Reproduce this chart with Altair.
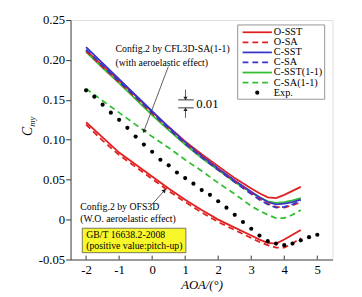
import altair as alt
import pandas as pd

# ---------------- data ----------------
aoa = [-2, -1.5, -1, -0.5, 0, 0.5, 1, 1.5, 2, 2.5, 3, 3.25, 3.5, 3.75, 4, 4.25, 4.5]

# Config.1 group (upper)
o_sst_1 = [0.212, 0.193, 0.174, 0.155, 0.135, 0.116, 0.098, 0.082, 0.067, 0.052, 0.039, 0.033, 0.028, 0.027, 0.031, 0.036, 0.041]
o_sa_1 = [0.211, 0.191, 0.172, 0.153, 0.133, 0.114, 0.096, 0.079, 0.063, 0.048, 0.033, 0.026, 0.020, 0.016, 0.015, 0.018, 0.022]
c_sst = [0.216, 0.196, 0.176, 0.156, 0.136, 0.116, 0.097, 0.080, 0.064, 0.049, 0.035, 0.028, 0.022, 0.019, 0.020, 0.022, 0.025]
c_sa = [0.213, 0.193, 0.173, 0.154, 0.134, 0.114, 0.095, 0.078, 0.062, 0.047, 0.032, 0.025, 0.019, 0.015, 0.016, 0.019, 0.024]
c_sst11 = [0.210, 0.190, 0.171, 0.151, 0.131, 0.112, 0.094, 0.077, 0.062, 0.047, 0.034, 0.028, 0.023, 0.021, 0.022, 0.024, 0.027]
# Config.2 group
c_sa11 = [0.164, 0.149, 0.134, 0.119, 0.104, 0.090, 0.075, 0.061, 0.046, 0.032, 0.017, 0.011, 0.006, 0.002, 0.002, 0.006, 0.012]
o_sst_2 = [0.122, 0.103, 0.084, 0.069, 0.054, 0.039, 0.025, 0.012, 0.000, -0.010, -0.020, -0.025, -0.029, -0.030, -0.025, -0.019, -0.013]
o_sa_2 = [0.119, 0.099, 0.081, 0.066, 0.051, 0.036, 0.022, 0.009, -0.003, -0.013, -0.023, -0.028, -0.032, -0.035, -0.035, -0.030, -0.023]

exp_aoa = [-2, -1.75, -1.5, -1.25, -1, -0.75, -0.5, -0.25, 0, 0.25, 0.5, 0.75, 1, 1.25, 1.5,
           1.75, 2, 2.25, 2.5, 2.75, 3, 3.25, 3.5, 3.75, 4, 4.25, 4.5, 4.75, 5]
exp_cmy = [0.162, 0.154, 0.144, 0.134, 0.125, 0.115, 0.104, 0.094, 0.085, 0.075, 0.068, 0.059, 0.052, 0.045, 0.037,
           0.031, 0.023, 0.015, 0.006, -0.003, -0.0115, -0.020, -0.027, -0.030, -0.032, -0.030, -0.026, -0.022, -0.019]

x_ticks = [-2, -1, 0, 1, 2, 3, 4, 5]
y_ticks = [-0.05, 0, 0.05, 0.10, 0.15, 0.20, 0.25]

RED, BLUE, GREEN = "#e02020", "#3535c8", "#2fbf2f"
FONT = "Liberation Serif"
LW = 1.8

series = [
    ("O-SA(2)", o_sa_2, RED, True),
    ("O-SST(2)", o_sst_2, RED, False),
    ("C-SA(1-1)", c_sa11, GREEN, True),
    ("O-SST(1)", o_sst_1, RED, False),
    ("C-SST(1-1)", c_sst11, GREEN, False),
    ("O-SA(1)", o_sa_1, RED, True),
    ("C-SA", c_sa, BLUE, True),
    ("C-SST", c_sst, BLUE, False),
]

rows = []
for name, vals, col, dashed in series:
    for a, v in zip(aoa, vals):
        rows.append({"series": name, "aoa": a, "cmy": v, "color": col, "dashed": dashed})
df = pd.DataFrame(rows)
df_exp = pd.DataFrame({"aoa": exp_aoa, "cmy": exp_cmy})

xscale = alt.Scale(domain=[-2.47, 5.46], nice=False, zero=False)
yscale = alt.Scale(domain=[-0.05, 0.25], nice=False, zero=False)

xaxis = alt.Axis(values=x_ticks, tickSize=0, labelPadding=4, grid=False,
                 labelOverlap=False, labelFlush=False,
                 labelFont=FONT, labelFontSize=13, labelColor="black",
                 labelExpr="datum.value < 0 ? '-' + format(-datum.value, 'd') : format(datum.value, 'd')",
                 title="AOA/(°)", titleFont=FONT, titleFontSize=13, titleFontStyle="italic",
                 titleFontWeight="normal", titleColor="black", titlePadding=3,
                 domainColor="#444")
yaxis = alt.Axis(values=y_ticks, tickSize=5, labelPadding=1, grid=False, tickColor="#333",
                 labelOverlap=False, labelFlush=False,
                 labelFont=FONT, labelFontSize=13, labelColor="black",
                 labelExpr="datum.value == 0 ? '0' : (datum.value < 0 ? '-' + format(-datum.value, '.2f') : format(datum.value, '.2f'))",
                 title=None, domainColor="#444")

def XF(f):
    return alt.X(f, type="quantitative", scale=xscale, axis=xaxis)

def YF(f):
    return alt.Y(f, type="quantitative", scale=yscale, axis=yaxis)

solid = alt.Chart(df[~df.dashed]).mark_line(strokeWidth=LW).encode(
    x=XF("aoa"), y=YF("cmy"), color=alt.Color("color:N", scale=None), detail="series:N", order="aoa:Q")
dashed = alt.Chart(df[df.dashed]).mark_line(strokeWidth=LW, strokeDash=[6, 4]).encode(
    x=XF("aoa"), y=YF("cmy"), color=alt.Color("color:N", scale=None), detail="series:N", order="aoa:Q")
pts = alt.Chart(df_exp).mark_circle(size=18, color="black", opacity=1).encode(x=XF("aoa"), y=YF("cmy"))

layers = [solid, dashed, pts]

# inward x ticks
tick_df = pd.DataFrame({"t": x_ticks})
layers.append(alt.Chart(tick_df).mark_rule(color="#333", strokeWidth=1).encode(
    x=XF("t"), y=alt.value(245), y2=alt.value(241)))

dummy = pd.DataFrame({"a": [0]})

def seg(x0, y0, x1, y1, w=0.8):
    d = pd.DataFrame({"x0": [x0], "y0": [y0], "x1": [x1], "y1": [y1]})
    return alt.Chart(d).mark_rule(color="#333", strokeWidth=w).encode(
        x=XF("x0"), y=YF("y0"), x2="x1:Q", y2="y1:Q")

def head(x, y, ang, size=22):
    d = pd.DataFrame({"x": [x], "y": [y]})
    return alt.Chart(d).mark_point(shape="triangle", filled=True, color="#222", opacity=1,
                                   size=size, angle=ang).encode(x=XF("x"), y=YF("y"))

# annotation arrows (data coordinates)
layers += [seg(0.49, 0.1917, -0.23, 0.113), head(-0.24, 0.1115, 200)]
layers += [seg(-0.01, 0.0187, 0.37, 0.0365), head(0.36, 0.036, 41)]
# 0.01 scale indicator
layers += [seg(0.79, 0.15, 1.26, 0.15, 1), seg(0.79, 0.14, 1.26, 0.14, 1)]
layers += [seg(1.01, 0.163, 1.01, 0.153), head(1.01, 0.1525, 180, 18)]
layers += [seg(1.01, 0.1275, 1.01, 0.137), head(1.01, 0.1375, 0, 18)]
layers.append(alt.Chart(dummy).mark_text(font=FONT, fontSize=13, align="left", baseline="middle", color="black").encode(
    x=alt.value(128.7), y=alt.value(86.3), text=alt.value("0.01")))

def txt(s, x, y, size=10, style="normal", angle=0, align="left"):
    return alt.Chart(dummy).mark_text(font=FONT, fontSize=size, fontStyle=style, align=align,
                                      baseline="middle", color="black", angle=angle).encode(
        x=alt.value(x), y=alt.value(y), text=alt.value(s))

layers += [txt("Config.2 by CFL3D-SA(1-1)", 46, 30), txt("(with aeroelastic effect)", 46, 44)]
layers += [txt("Config.2 by OFS3D", 10, 191.5), txt("(W.O. aeroelastic effect)", 10, 204)]

# yellow box
layers.append(alt.Chart(dummy).mark_rect(fill="#f7f72a", stroke="#555", strokeWidth=0.8).encode(
    x=alt.value(12), x2=alt.value(118), y=alt.value(213), y2=alt.value(238)))
layers += [txt("GB/T 16638.2-2008", 16, 219.5), txt("(positive value:pitch-up)", 16, 231.5)]

# y title C_my
layers += [txt("C", -43, 114, size=14, style="italic", angle=270, align="center"),
           txt("my", -39, 104, size=9, style="italic", angle=270, align="center")]

# legend
layers.append(alt.Chart(dummy).mark_rect(fill="white", stroke="#777", strokeWidth=0.8).encode(
    x=alt.value(171), x2=alt.value(260), y=alt.value(5), y2=alt.value(81)))
legend_items = [("O-SST", RED, False), ("O-SA", RED, True), ("C-SST", BLUE, False), ("C-SA", BLUE, True),
                ("C-SST(1-1)", GREEN, False), ("C-SA(1-1)", GREEN, True)]
STEP = 10.3
for i, (lab, col, dsh) in enumerate(legend_items):
    yy = 12.5 + STEP * i
    kw = {"strokeDash": [6, 4]} if dsh else {}
    layers.append(alt.Chart(dummy).mark_rule(color=col, strokeWidth=LW, **kw).encode(
        x=alt.value(176), x2=alt.value(206), y=alt.value(yy)))
    layers.append(txt(lab, 208, yy, size=10.5))
yy = 12.5 + STEP * 6
layers.append(alt.Chart(dummy).mark_circle(color="black", size=18, opacity=1).encode(
    x=alt.value(191), y=alt.value(yy)))
layers.append(txt("Exp.", 208, yy, size=10.5))

chart = alt.layer(*layers).properties(
    width=268, height=245,
    padding={"left": 64, "top": 9, "right": 22, "bottom": 35},
    autosize=alt.AutoSizeParams(type="none"),
).configure_view(stroke="#444", strokeWidth=1).configure(background="white")

chart.save("out.html", embed_options={"renderer": "svg", "actions": False})
